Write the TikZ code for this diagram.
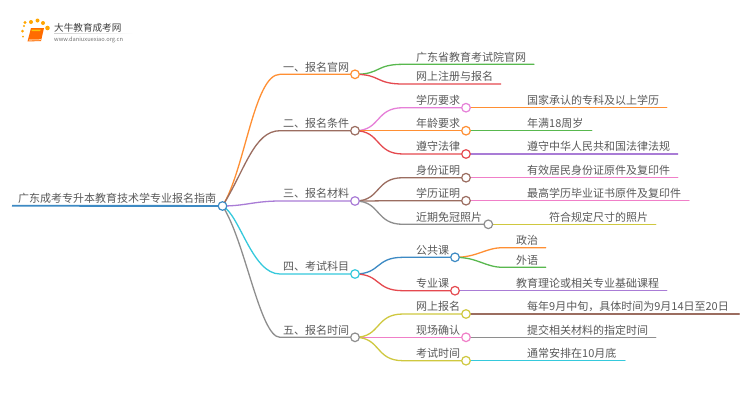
\documentclass[tikz,border=0pt]{standalone}
\usepackage{fontspec}
\setmainfont{Noto Sans CJK SC}
\usetikzlibrary{backgrounds,fadings}
\definecolor{cOrange}{HTML}{FF8F33}
\definecolor{cBrown}{HTML}{9B6D60}
\definecolor{cPurple}{HTML}{A97CD6}
\definecolor{cCyan}{HTML}{35C9DC}
\definecolor{cGray}{HTML}{8E8E8E}
\definecolor{cGreen}{HTML}{58B84E}
\definecolor{cRed}{HTML}{E5494F}
\definecolor{cViolet}{HTML}{E680D8}
\definecolor{cPink}{HTML}{F07FC8}
\definecolor{cOlive}{HTML}{CFC83F}
\definecolor{cBlue}{HTML}{3D8AC4}
\definecolor{cText}{HTML}{5A5A5A}
\tikzset{
  x=1pt,y=-1pt,
  dot/.style={circle,draw=#1,fill=white,line width=1.2pt,minimum size=8.6pt,inner sep=0pt},
  lbl/.style={anchor=base west,inner sep=0pt,yshift=-0.6pt,text=cText,font=\fontsize{11pt}{11pt}\selectfont},
  link/.style={draw=#1,line width=1.3pt,line cap=round},
  rootlink/.style={draw=#1,line width=1.9pt},
}
\newcommand{\mainlink}[4]{% from, to, y, colour
  \path[link=#4] (#1.center) .. controls (245,170) and (254,#3) .. (280,#3) -- (#2.center);}
\newcommand{\slink}[6]{% from, to, x0, y0, y1, colour
  \path[link=#6] (#1.center) .. controls ({#3+26},#4) and ({#3+20},#5) .. ({#3+48},#5) -- (#2);}
\begin{document}
\begin{tikzpicture}
\useasboundingbox (0,0) rectangle (750,410);

% ---- logo ----
\foreach \a/\b/\r in {24/26/1.2,22.5/31/1.5,23/36.5/1,25/22.5/1.7,31/22/2,37.5/20.5/2,43/23/2,47.5/28/2.3}{
  \fill[orange!70!yellow] (\a,\b) circle (\r);}
\fill[orange!85!red] (31,28) -- (44,28) -- (41,41) -- (27.5,41.5) -- cycle;
\fill[yellow!60!orange] (31.5,29.5) -- (41,29.5) -- (40,31) -- (31.5,31) -- cycle;
\fill[white!60!orange] (29,39.5) -- (41,39.2) -- (40.7,40.2) -- (28.8,40.6) -- cycle;
\node[anchor=base west,inner sep=0pt,text=black!75,font=\fontsize{9.6pt}{10pt}\selectfont] (logoA) at (54,31) {大牛教育成考网};
\node[anchor=base west,inner sep=0pt,text=black!55,font=\fontsize{5.7pt}{6pt}\selectfont] (logoB) at (54,41.5) {www.daniuxuexiao.org.cn};
\fill[black!18,path fading=east] (54,33.4) rectangle (133,34);

% ---- root ----
\node[lbl] (rootT) at (18,202) {广东成考专升本教育技术学专业报名指南};
\coordinate (rootS) at (12,205.7);
\node[dot=cBlue] (root) at (222.5,206) {};

% ---- level 1 ----
\node[dot=cOrange] (n1) at (355,74.3) {};
\node[dot=cBrown] (n2) at (355,130.7) {};
\node[dot=cPurple] (n3) at (355,201) {};
\node[dot=cCyan] (n4) at (355,274) {};
\node[dot=cGray] (n5) at (355,337.3) {};
\node[lbl] (t1) at (283,70.5) {一、报名官网};
\node[lbl] (t2) at (283,127) {二、报名条件};
\node[lbl] (t3) at (283,197.3) {三、报名材料};
\node[lbl] (t4) at (283,270.3) {四、考试科目};
\node[lbl] (t5) at (283,333.6) {五、报名时间};

% ---- level 2 ----
\coordinate (e11) at (534,64.3);
\coordinate (e12) at (500.7,84);
\node[lbl] (t11) at (416,60.5) {广东省教育考试院官网};
\node[lbl] (t12) at (416,80.2) {网上注册与报名};

\node[dot=cViolet] (n21) at (466,107.7) {};
\node[dot=cOrange] (n22) at (466,130.7) {};
\node[dot=cRed] (n23) at (466,154) {};
\node[lbl] (t21) at (416,104) {学历要求};
\node[lbl] (t22) at (416,127) {年龄要求};
\node[lbl] (t23) at (416,150.3) {遵守法律};
\coordinate (e21) at (666.7,107.7);
\coordinate (e22) at (591.7,130.7);
\coordinate (e23) at (677.7,154);
\node[lbl] (t21b) at (527,104) {国家承认的专科及以上学历};
\node[lbl] (t22b) at (527,127) {年满18周岁};
\node[lbl] (t23b) at (527,150.3) {遵守中华人民共和国法律法规};

\node[dot=cBrown] (n31) at (466,177.7) {};
\node[dot=cBrown] (n32) at (466,200.7) {};
\node[dot=cGray] (n33) at (488.3,224.3) {};
\node[lbl] (t31) at (416,174) {身份证明};
\node[lbl] (t32) at (416,197) {学历证明};
\node[lbl] (t33) at (416,220.6) {近期免冠照片};
\coordinate (e31) at (677.7,177.7);
\coordinate (e32) at (689,200.7);
\coordinate (e33) at (655.7,224.3);
\node[lbl] (t31b) at (527,174) {有效居民身份证原件及复印件};
\node[lbl] (t32b) at (527,197) {最高学历毕业证书原件及复印件};
\node[lbl] (t33b) at (549,220.6) {符合规定尺寸的照片};

\node[dot=cBlue] (n41) at (455,257.3) {};
\node[dot=cRed] (n42) at (455,290.7) {};
\node[lbl] (t41) at (416,253.6) {公共课};
\node[lbl] (t42) at (416,287) {专业课};
\coordinate (e411) at (545.7,247.7);
\coordinate (e412) at (545.7,267.3);
\coordinate (e42) at (666.7,290.7);
\node[lbl] (t411) at (516,244) {政治};
\node[lbl] (t412) at (516,263.6) {外语};
\node[lbl] (t42b) at (516,287) {教育理论或相关专业基础课程};

\node[dot=cOlive] (n51) at (466,314) {};
\node[dot=cPink] (n52) at (466,337.3) {};
\node[dot=cOlive] (n53) at (466,360.7) {};
\node[lbl] (t51) at (416,310.3) {网上报名};
\node[lbl] (t52) at (416,333.6) {现场确认};
\node[lbl] (t53) at (416,357) {考试时间};
\coordinate (e51) at (739.3,314);
\coordinate (e52) at (655.7,337.3);
\coordinate (e53) at (625,360.7);
\node[lbl] (t51b) at (527,310.3) {每年9月中旬，具体时间为9月14日至20日};
\node[lbl] (t52b) at (527,333.6) {提交相关材料的指定时间};
\node[lbl] (t53b) at (527,357) {通常安排在10月底};

% ---- connectors ----
\begin{scope}[on background layer]
\fill[white] (0,0) rectangle (750,410);
\path[rootlink=cBlue] (rootS) -- (root.center);
\mainlink{root}{n1}{74.3}{cOrange}
\mainlink{root}{n2}{130.7}{cBrown}
\path[link=cPurple] (root.center) .. controls (245,206) and (255,201) .. (280,201) -- (n3.center);
\path[link=cCyan] (root.center) .. controls (240,215) and (252,274) .. (280,274) -- (n4.center);
\path[link=cGray] (root.center) .. controls (245,240) and (260,337.3) .. (280,337.3) -- (n5.center);

\slink{n1}{e11}{355}{74.3}{64.3}{cGreen}
\slink{n1}{e12}{355}{74.3}{84}{cRed}
\slink{n2}{n21.center}{355}{130.7}{107.7}{cViolet}
\slink{n2}{n22.center}{355}{130.7}{130.7}{cOrange}
\slink{n2}{n23.center}{355}{130.7}{154}{cRed}
\slink{n3}{n31.center}{355}{201}{177.7}{cBrown}
\slink{n3}{n32.center}{355}{201}{200.7}{cBrown}
\slink{n3}{n33.center}{355}{201}{224.3}{cGray}
\slink{n4}{n41.center}{355}{274}{257.3}{cBlue}
\slink{n4}{n42.center}{355}{274}{290.7}{cRed}
\slink{n5}{n51.center}{355}{337.3}{314}{cOlive}
\slink{n5}{n52.center}{355}{337.3}{337.3}{cPink}
\slink{n5}{n53.center}{355}{337.3}{360.7}{cOlive}

\path[link=cOrange] (n21.center) -- (e21);
\path[link=cGreen] (n22.center) -- (e22);
\path[link=cPurple] (n23.center) -- (e23);
\path[link=cPink] (n31.center) -- (e31);
\path[link=cPink] (n32.center) -- (e32);
\path[link=cOlive] (n33.center) -- (e33);
\path[link=cOrange] (n41.center) .. controls (478,257.3) and (485,247.7) .. (503,247.7) -- (e411);
\path[link=cGreen] (n41.center) .. controls (478,257.3) and (485,267.3) .. (503,267.3) -- (e412);
\path[link=cPurple] (n42.center) -- (e42);
\path[link=cBrown] (n51.center) -- (e51);
\path[link=cGray] (n52.center) -- (e52);
\path[link=cCyan] (n53.center) -- (e53);
\end{scope}
\end{tikzpicture}
\end{document}
